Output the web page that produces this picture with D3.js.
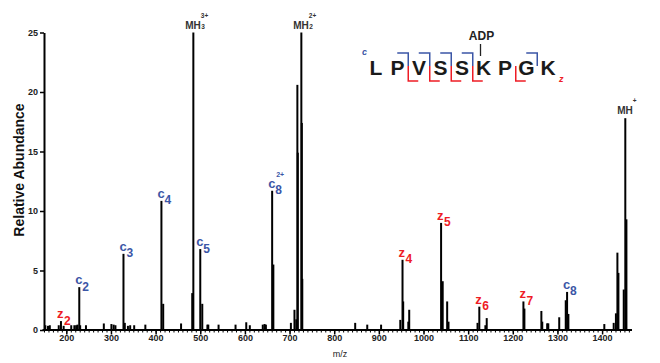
<!DOCTYPE html>
<html><head><meta charset="utf-8">
<script src="https://cdn.jsdelivr.net/npm/d3@7"></script>
<style>
html,body{margin:0;padding:0;background:#fff;}
svg{display:block;font-family:"Liberation Sans",Arial,sans-serif;}
</style></head>
<body><svg id="chart" width="660" height="363"></svg>
<script>
// ---- data ----
const peakMz = [153,159,163,183,188,194,211,218,222,225,229,231,244,284,301,306,310,328,331,338,343,352,377,413,417,457,482,484.5,500,504.5,516,518,541,579,603,611,640,644,647,661,663.7,703,711,715,717.5,718.5,726.4,727.5,728.5,847,874,905,948,953,954.5,966,968,1039.4,1043,1053,1056,1121,1125,1138.6,1141.6,1223.8,1226,1264,1266,1277,1279.5,1304,1318.6,1321.6,1324.5,1405,1426,1431,1434.3,1436.6,1448.5,1452,1454.5];
const peakInt = [0.4,0.35,0.4,0.4,0.75,0.35,0.4,0.4,0.4,0.45,3.6,0.4,0.4,0.55,0.5,0.45,0.4,6.4,0.6,0.35,0.4,0.4,0.45,10.85,2.2,0.55,3.1,25,6.8,2.2,0.45,0.45,0.45,0.45,0.65,0.4,0.45,0.5,0.45,11.7,5.5,0.6,1.7,0.9,20.6,14.9,25,17.4,4.3,0.6,0.45,0.45,0.85,5.9,2.4,0.7,1.7,9.0,4.1,2.4,0.7,0.6,1.96,0.4,1.0,2.4,1.8,1.6,0.7,0.56,0.56,1.07,2.5,3.2,1.35,0.5,0.6,1.4,6.5,4.8,3.4,17.8,9.3];

const ionType   = ["z","c","c","c","c","c","z","z","z","z","c"];
const ionNum    = ["2","2","3","4","5","8","4","5","6","7","8"];
const ionCharge = ["","","","","","2+","","","","",""];
const ionMz     = [188,229,328,413,500,661,953,1039.4,1125,1223.8,1321.6];
const ionInt    = [0.75,3.6,6.4,10.85,6.8,11.7,5.9,9.0,1.96,2.4,3.2];

const mhMz  = [484.5,726.4,1452];
const mhInt = [25,25,17.8];
const mhSub = ["3","2",""];
const mhSup = ["3+","2+","+"];

const xTicks = [200,300,400,500,600,700,800,900,1000,1100,1200,1300,1400];
const yTicks = [0,5,10,15,20,25];

const sequence = ["L","P","V","S","S","K","P","G","K"];
const cSites = [1,2,3,4,7];   // cleavage after residue index (c ions)
const zSites = [1,2,3,4,6];   // cleavage after residue index (z ions)
const modIndex = 5, modLabel = "ADP";

// ---- layout ----
const svg = d3.select("#chart");
const blue = "#3b56a6", red = "#ee1c25";
const x = d3.scaleLinear().domain([150,1467]).range([44,632]);
const y = d3.scaleLinear().domain([0,25]).range([330,32.5]);

// bars
svg.append("g").selectAll("line").data(peakMz).join("line")
  .attr("x1",d=>x(d)).attr("x2",d=>x(d))
  .attr("y1",y(0)).attr("y2",(d,i)=>y(peakInt[i]))
  .attr("stroke","#000").attr("stroke-width",2);

// x axis minor
const gxm = svg.append("g").attr("transform",`translate(0,${y(0)})`)
  .call(d3.axisBottom(x).tickValues(d3.range(150,1466,10)).tickSize(2.5).tickFormat("").tickSizeOuter(0));
gxm.select(".domain").remove();
gxm.selectAll("line").attr("stroke","#000").attr("stroke-width",1);
// x axis major
const gx = svg.append("g").attr("transform",`translate(0,${y(0)})`)
  .call(d3.axisBottom(x).tickValues(xTicks).tickSize(4.5).tickPadding(0).tickFormat(d3.format("d")).tickSizeOuter(0));
gx.select(".domain").attr("stroke","#000").attr("stroke-width",2).attr("d",`M42.5,0H${x(1467)}`);
gx.selectAll("line").attr("stroke","#000").attr("stroke-width",1.5);
gx.selectAll("text").attr("font-size",9).attr("font-weight","bold").attr("fill","#222")
  .attr("font-family","Liberation Sans, Arial, sans-serif");

// y axis
const gy = svg.append("g").attr("transform",`translate(${x(150)},0)`)
  .call(d3.axisLeft(y).tickValues(yTicks).tickSize(4).tickPadding(2).tickSizeOuter(0));
gy.select(".domain").attr("stroke","#000").attr("stroke-width",2);
gy.selectAll("line").attr("stroke","#000").attr("stroke-width",1.5);
gy.selectAll("text").attr("font-size",9).attr("font-weight","bold").attr("fill","#222")
  .attr("font-family","Liberation Sans, Arial, sans-serif");

// axis titles
svg.append("text").attr("transform","translate(24,170) rotate(-90)")
  .attr("text-anchor","middle").attr("font-size",14).attr("font-weight","bold").attr("fill","#111")
  .text("Relative Abundance");
svg.append("text").attr("x",340).attr("y",356.5).attr("text-anchor","middle")
  .attr("font-size",9).attr("fill","#222").text("m/z");

// ion labels
ionMz.forEach((m,i)=>{
  const px = x(m), py = y(ionInt[i]);
  const col = ionType[i]==="c" ? blue : red;
  const g = svg.append("g").attr("fill",col).attr("font-weight","bold");
  g.append("text").attr("x",px-4).attr("y",py-3).attr("font-size",13).text(ionType[i]);
  g.append("text").attr("x",px+3).attr("y",py+3.5).attr("font-size",12).text(ionNum[i]);
  if (ionCharge[i]) g.append("text").attr("x",px+4).attr("y",py-13.5).attr("font-size",7).text(ionCharge[i]);
});

// MH labels
mhMz.forEach((m,i)=>{
  const px = x(m), py = y(mhInt[i]);
  const g = svg.append("g").attr("fill","#333").attr("font-weight","bold");
  g.append("text").attr("x",px+7.5).attr("y",py-4).attr("text-anchor","end").attr("font-size",10).text("MH");
  if (mhSub[i]) g.append("text").attr("x",px+8).attr("y",py-3.5).attr("font-size",6.5).text(mhSub[i]);
  g.append("text").attr("x",px+7.5).attr("y",py-15).attr("font-size",6.5).text(mhSup[i]);
});

// sequence
const sx = d3.scalePoint().domain(d3.range(sequence.length)).range([376,548]);
const seqG = svg.append("g");
seqG.selectAll("text").data(sequence).join("text")
  .attr("x",(d,i)=>sx(i)).attr("y",75).attr("text-anchor","middle")
  .attr("font-size",21).attr("font-weight","bold").attr("fill","#1a1a1a").text(d=>d);
const bnd = i => (sx(i)+sx(i+1))/2;
cSites.forEach(i=>{
  const b = bnd(i);
  seqG.append("path").attr("d",`M${b-11},53H${b}V66`).attr("fill","none").attr("stroke",blue).attr("stroke-width",1.5);
});
zSites.forEach(i=>{
  const b = bnd(i);
  seqG.append("path").attr("d",`M${b},66V81H${b+10}`).attr("fill","none").attr("stroke",red).attr("stroke-width",1.5);
});
seqG.append("text").attr("x",362).attr("y",54.5).attr("font-size",9).attr("font-style","italic").attr("font-weight","bold").attr("fill",blue).text("c");
seqG.append("text").attr("x",559).attr("y",82).attr("font-size",9).attr("font-style","italic").attr("font-weight","bold").attr("fill",red).text("z");
const mx = sx(modIndex)-3;
seqG.append("text").attr("x",mx+1).attr("y",40).attr("text-anchor","middle").attr("font-size",12).attr("font-weight","bold").attr("fill","#222").text(modLabel);
seqG.append("line").attr("x1",mx).attr("x2",mx).attr("y1",44).attr("y2",56).attr("stroke","#222").attr("stroke-width",1.3);
</script></body></html>
